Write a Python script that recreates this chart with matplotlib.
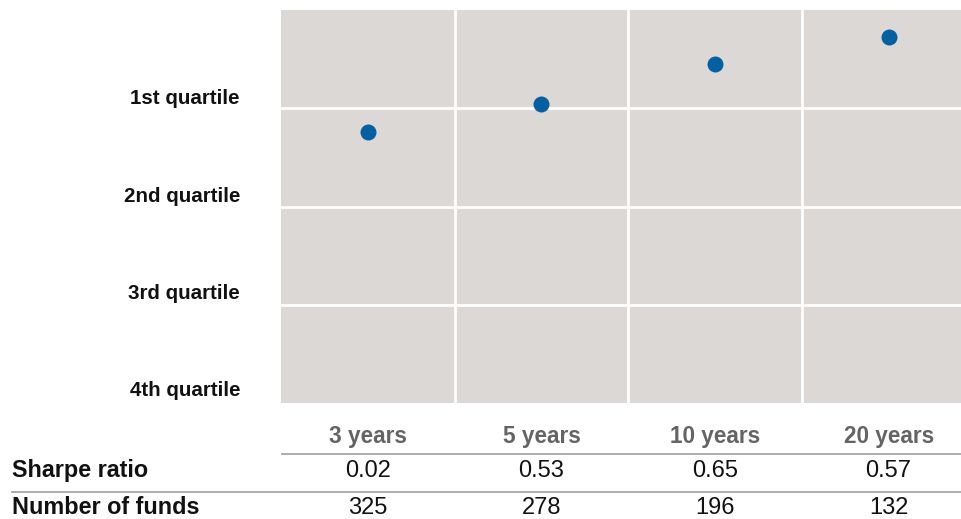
import matplotlib
matplotlib.use("Agg")
import matplotlib.pyplot as plt
from matplotlib.transforms import blended_transform_factory
from matplotlib.lines import Line2D

plt.rcParams['font.family'] = ['Liberation Sans', 'DejaVu Sans']

# Data
periods = ["3 years", "5 years", "10 years", "20 years"]
percentile_rank = [69.0, 76.2, 86.2, 93.2]   # position within peer group (100 = top)
sharpe_ratio = ["0.02", "0.53", "0.65", "0.57"]
number_of_funds = ["325", "278", "196", "132"]
quartile_labels = ["1st quartile", "2nd quartile", "3rd quartile", "4th quartile"]

W, H = 961, 519
fig = plt.figure(figsize=(W / 100, H / 100), dpi=100)

# Plot panel geometry (pixels)
left_px, right_px, top_px, bottom_px = 281, 961, 10, 403
col_w = 173.6
ax = fig.add_axes([left_px / W, 1 - bottom_px / H,
                   (right_px - left_px) / W, (bottom_px - top_px) / H])
ax.set_facecolor("#dbd8d5")
ax.set_xlim(0, (right_px - left_px) / col_w)
ax.set_ylim(0, 100)
for s in ax.spines.values():
    s.set_visible(False)
ax.set_xticks([])
ax.set_yticks([])

# White separators between periods and quartiles
for xv in range(1, len(periods)):
    ax.axvline(xv, color="white", lw=2)
for yv in (25, 50, 75):
    ax.axhline(yv, color="white", lw=2)

xs = [i + 0.5 for i in range(len(periods))]
ax.plot(xs, percentile_rank, "o", color="#0460a0", markersize=11.5,
        markeredgewidth=0, clip_on=False, zorder=3)


def fy(px):
    return 1 - px / H


# Quartile labels, right aligned to the left of the panel
label_y_px = [99, 196, 293.5, 390]
for lab, ypx in zip(quartile_labels, label_y_px):
    fig.text(240 / W, fy(ypx), lab, ha="right", va="center",
             fontsize=14.8, fontweight="bold", color="#111111")

# Table beneath the panel
tr = blended_transform_factory(ax.transData, fig.transFigure)

for x, p, s, n in zip(xs, periods, sharpe_ratio, number_of_funds):
    ax.text(x, fy(436), p, ha="center", va="center", fontsize=16.3,
            fontweight="bold", color="#646464", transform=tr, clip_on=False)
    ax.text(x, fy(471), s, ha="center", va="center", fontsize=17,
            color="#111111", transform=tr, clip_on=False)
    ax.text(x, fy(508), n, ha="center", va="center", fontsize=17,
            color="#111111", transform=tr, clip_on=False)

fig.text(12 / W, fy(471), "Sharpe ratio", ha="left", va="center",
         fontsize=16.8, fontweight="bold", color="#111111")
fig.text(12 / W, fy(508), "Number of funds", ha="left", va="center",
         fontsize=16.8, fontweight="bold", color="#111111")

fig.add_artist(Line2D([282 / W, 1], [fy(454), fy(454)], color="#a6a6a6",
                      lw=1.3, transform=fig.transFigure))
fig.add_artist(Line2D([12 / W, 1], [fy(492), fy(492)], color="#a6a6a6",
                      lw=1.3, transform=fig.transFigure))

fig.savefig("out.png", dpi=100)
